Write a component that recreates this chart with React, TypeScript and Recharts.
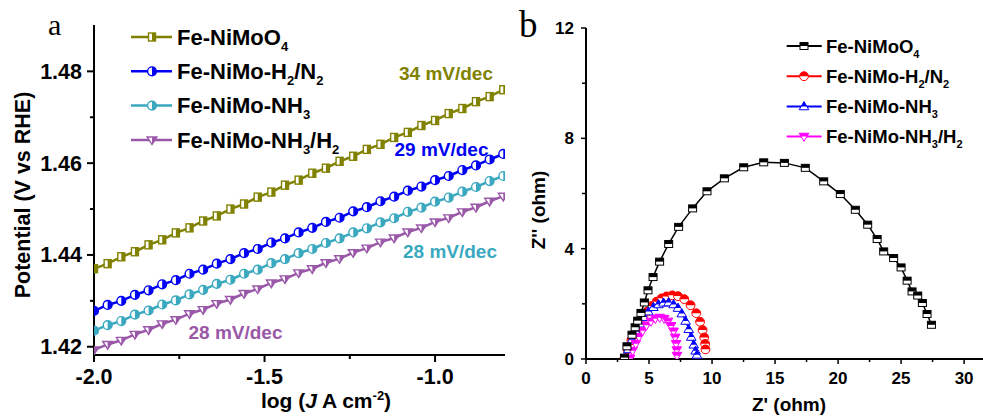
import React from 'react';
import { LineChart, Line, XAxis, YAxis, Legend } from 'recharts';

// ---------- Panel a: Tafel plots ----------
const tafelLogJ = [
  -2.0, -1.96, -1.92, -1.88, -1.84, -1.8, -1.76, -1.72, -1.68, -1.64, -1.6,
  -1.56, -1.52, -1.48, -1.44, -1.4, -1.36, -1.32, -1.28, -1.24, -1.2, -1.16,
  -1.12, -1.08, -1.04, -1.0, -0.96, -0.92, -0.88, -0.84, -0.8,
];
const tafelFeNiMoO4 = [
  1.437, 1.4381, 1.4396, 1.4407, 1.4422, 1.4433, 1.4448, 1.4459, 1.4474, 1.4485, 1.45,
  1.4511, 1.4526, 1.4537, 1.4552, 1.4563, 1.4578, 1.4589, 1.4604, 1.4615, 1.463, 1.4641,
  1.4656, 1.4667, 1.4682, 1.4693, 1.4708, 1.4719, 1.4734, 1.4745, 1.476,
];
const tafelH2N2 = [
  1.4278, 1.4291, 1.43, 1.4313, 1.4323, 1.4336, 1.4345, 1.4359, 1.4368, 1.4381, 1.4391,
  1.4404, 1.4413, 1.4427, 1.4436, 1.4449, 1.4459, 1.4472, 1.4481, 1.4495, 1.4504, 1.4517,
  1.4527, 1.454, 1.4549, 1.4563, 1.4572, 1.4585, 1.4595, 1.4608, 1.462,
];
const tafelNH3 = [
  1.4235, 1.4247, 1.4256, 1.427, 1.4279, 1.4292, 1.4301, 1.4314, 1.4324, 1.4337, 1.4346,
  1.4359, 1.4368, 1.4382, 1.4391, 1.4404, 1.4413, 1.4426, 1.4436, 1.4449, 1.4458, 1.4471,
  1.448, 1.4494, 1.4503, 1.4516, 1.4525, 1.4538, 1.4548, 1.4561, 1.4572,
];
const tafelNH3H2 = [
  1.4193, 1.4205, 1.4214, 1.4227, 1.4237, 1.425, 1.4259, 1.4272, 1.4281, 1.4294, 1.4303,
  1.4316, 1.4326, 1.4339, 1.4348, 1.4361, 1.437, 1.4383, 1.4392, 1.4405, 1.4415, 1.4428,
  1.4437, 1.445, 1.4459, 1.4472, 1.4481, 1.4494, 1.4504, 1.4517, 1.4528,
];
const tafelYTicks = [1.42, 1.43, 1.44, 1.45, 1.46, 1.47, 1.48];
const tafelXTicks = [-2.0, -1.75, -1.5, -1.25, -1.0];
const tafelSlopes = ['34 mV/dec', '29 mV/dec', '28 mV/dec', '28 mV/dec'];

// ---------- Panel b: Nyquist plots ----------
const eisFeNiMoO4Re = [
  3.05, 3.25, 3.65, 3.9, 4.1, 4.36, 4.63, 4.92, 5.32, 5.84, 6.56, 7.35, 8.46, 9.6, 10.98,
  12.51, 14.1, 15.74, 17.4, 18.86, 20.18, 21.37, 22.35, 23.1, 23.62, 24.41, 25.0, 25.48,
  25.87, 26.32, 26.69, 27.06, 27.41,
];
const eisFeNiMoO4Im = [
  0.05, 0.46, 0.88, 1.15, 1.39, 1.67, 2.05, 2.49, 2.97, 3.53, 4.17, 4.79, 5.46, 6.08, 6.55,
  6.95, 7.13, 7.11, 6.93, 6.44, 5.98, 5.41, 4.87, 4.35, 3.9, 3.66, 3.32, 2.84, 2.45, 2.3,
  2.03, 1.63, 1.24,
];
const eisH2N2Re = [
  3.05, 3.3, 3.6, 3.9, 4.2, 4.5, 4.85, 5.2, 5.6, 6.0, 6.4, 6.85, 7.3, 7.8, 8.3, 8.75, 9.05,
  9.25, 9.38, 9.45, 9.48,
];
const eisH2N2Im = [
  0.02, 0.35, 0.68, 0.98, 1.25, 1.5, 1.72, 1.92, 2.08, 2.2, 2.27, 2.31, 2.28, 2.17, 1.95,
  1.66, 1.35, 1.05, 0.78, 0.55, 0.35,
];
const eisNH3Re = [
  3.1, 3.35, 3.65, 3.95, 4.25, 4.6, 4.95, 5.35, 5.75, 6.15, 6.55, 6.95, 7.3, 7.6, 7.9, 8.15,
  8.35, 8.55, 8.7, 8.8,
];
const eisNH3Im = [
  0.02, 0.35, 0.7, 1.0, 1.28, 1.52, 1.72, 1.88, 1.98, 2.04, 2.05, 1.98, 1.85, 1.65, 1.38,
  1.08, 0.8, 0.52, 0.3, 0.15,
];
const eisNH3H2Re = [
  3.5, 3.7, 3.95, 4.2, 4.5, 4.8, 5.15, 5.5, 5.85, 6.2, 6.5, 6.75, 6.95, 7.08, 7.15, 7.2, 7.22,
];
const eisNH3H2Im = [
  0.02, 0.3, 0.55, 0.8, 1.02, 1.22, 1.36, 1.46, 1.5, 1.46, 1.36, 1.2, 1.0, 0.78, 0.55, 0.32,
  0.12,
];
const eisXTicks = [0, 2.5, 5, 7.5, 10, 12.5, 15, 17.5, 20, 22.5, 25, 27.5, 30];
const eisYTicks = [0, 2, 4, 6, 8, 10, 12];

const seriesNames = ['Fe-NiMoO4', 'Fe-NiMo-H2/N2', 'Fe-NiMo-NH3', 'Fe-NiMo-NH3/H2'];

const zip = (xs: number[], ys: number[]) => xs.map((x, i) => ({ x, y: ys[i] }));

const FONT = '"Liberation Sans", Arial, sans-serif';
const SERIF = '"Liberation Serif", "Times New Roman", serif';

const colorsA = ['#818100', '#0000f5', '#3aa9bf', '#9a58a8'];
const colorsB = ['#000000', '#ff0000', '#0000ff', '#ff00ff'];

// ---------- marker shapes ----------
type MP = { cx: number; cy: number; color: string };

const SqRight = ({ cx, cy, color }: MP) => (
  <g>
    <rect x={cx - 3.5} y={cy - 4} width={7} height={8} fill="#fff" stroke={color} strokeWidth={1.4} />
    <rect x={cx} y={cy - 4} width={3.5} height={8} fill={color} />
  </g>
);
const CircRight = ({ cx, cy, color }: MP) => {
  const r = 4.4;
  return (
    <g>
      <circle cx={cx} cy={cy} r={r} fill="#fff" stroke={color} strokeWidth={1.4} />
      <path d={`M ${cx} ${cy - r} A ${r} ${r} 0 0 1 ${cx} ${cy + r} Z`} fill={color} />
    </g>
  );
};
const TriDownRight = ({ cx, cy, color }: MP) => {
  const s = 4.9;
  return (
    <g>
      <polygon
        points={`${cx - s},${cy - 0.6 * s} ${cx + s},${cy - 0.6 * s} ${cx},${cy + 0.95 * s}`}
        fill="#fff"
        stroke={color}
        strokeWidth={1.4}
      />
      <polygon points={`${cx},${cy - 0.6 * s} ${cx + s},${cy - 0.6 * s} ${cx},${cy + 0.95 * s}`} fill={color} />
    </g>
  );
};

const SqTop = ({ cx, cy, color }: MP) => (
  <g>
    <rect x={cx - 4} y={cy - 3.5} width={8} height={7} fill="#fff" stroke={color} strokeWidth={1} />
    <rect x={cx - 4} y={cy - 3.5} width={8} height={3.5} fill={color} />
  </g>
);
const CircTop = ({ cx, cy, color }: MP) => {
  const r = 4.4;
  return (
    <g>
      <circle cx={cx} cy={cy} r={r} fill="#fff" stroke={color} strokeWidth={1} />
      <path d={`M ${cx - r} ${cy} A ${r} ${r} 0 0 1 ${cx + r} ${cy} Z`} fill={color} />
    </g>
  );
};
const TriUpTop = ({ cx, cy, color }: MP) => {
  const s = 4.8;
  const w = 0.59 * s;
  return (
    <g>
      <polygon
        points={`${cx},${cy - s} ${cx + s},${cy + 0.7 * s} ${cx - s},${cy + 0.7 * s}`}
        fill="#fff"
        stroke={color}
        strokeWidth={1}
      />
      <polygon points={`${cx},${cy - s} ${cx + w},${cy} ${cx - w},${cy}`} fill={color} />
    </g>
  );
};
const TriDownTop = ({ cx, cy, color }: MP) => {
  const s = 4.8;
  const w = 0.59 * s;
  return (
    <g>
      <polygon
        points={`${cx - s},${cy - 0.7 * s} ${cx + s},${cy - 0.7 * s} ${cx},${cy + s}`}
        fill="#fff"
        stroke={color}
        strokeWidth={1}
      />
      <polygon
        points={`${cx - s},${cy - 0.7 * s} ${cx + s},${cy - 0.7 * s} ${cx + w},${cy} ${cx - w},${cy}`}
        fill={color}
      />
    </g>
  );
};

const markersA = [SqRight, CircRight, CircRight, TriDownRight];
const markersB = [SqTop, CircTop, TriUpTop, TriDownTop];

const makeDot = (M: (p: MP) => React.ReactElement, color: string) => (props: any) => {
  const { cx, cy, index } = props;
  if (cx == null || cy == null) return <g key={index} />;
  return (
    <g key={index}>
      <M cx={cx} cy={cy} color={color} />
    </g>
  );
};

// name with chemical subscripts, drawn as svg tspans
const ChemName = ({ name, sub, shift }: { name: string; sub: number; shift: number }) => {
  const parts = name.split(/(\d)/).filter((p) => p !== '');
  let lowered = false;
  return (
    <>
      {parts.map((p, i) => {
        const isDigit = /\d/.test(p);
        let dy = 0;
        if (isDigit && !lowered) {
          dy = shift;
          lowered = true;
        } else if (!isDigit && lowered) {
          dy = -shift;
          lowered = false;
        }
        return (
          <tspan key={i} dy={dy} fontSize={isDigit ? sub : undefined}>
            {p}
          </tspan>
        );
      })}
    </>
  );
};

// ---------- panel a layout ----------
const A_W = 520;
const A_H = 419;
const A_LEFT = 94;
const A_BOTTOM = 355;

const TafelYTick = (props: any) => {
  const { y, payload } = props;
  const v = payload.value as number;
  const major = Math.round(v * 100) % 2 === 0;
  const len = major ? 7 : 4;
  return (
    <g>
      <line x1={A_LEFT - len} y1={y} x2={A_LEFT} y2={y} stroke="#000" strokeWidth={2} />
      {major && (
        <text x={82} y={y + 7.5} textAnchor="end" fontFamily={FONT} fontWeight="bold" fontSize={21.5} fill="#000">
          {v.toFixed(2)}
        </text>
      )}
    </g>
  );
};
const TafelXTick = (props: any) => {
  const { x, payload } = props;
  const v = payload.value as number;
  const major = Math.abs(v * 2 - Math.round(v * 2)) < 1e-6;
  const len = major ? 7 : 4;
  return (
    <g>
      <line x1={x} y1={A_BOTTOM} x2={x} y2={A_BOTTOM + len} stroke="#000" strokeWidth={2} />
      {major && (
        <text x={x} y={384} textAnchor="middle" fontFamily={FONT} fontWeight="bold" fontSize={21.5} fill="#000">
          {v.toFixed(1)}
        </text>
      )}
    </g>
  );
};

const LegendA = () => (
  <svg width={A_W} height={170} style={{ display: 'block' }}>
    {seriesNames.map((n, i) => {
      const yc = 37 + i * 34.3;
      const M = markersA[i];
      return (
        <g key={n}>
          <line x1={131} y1={yc} x2={172} y2={yc} stroke={colorsA[i]} strokeWidth={2.5} />
          <M cx={152} cy={yc} color={colorsA[i]} />
          <text x={177} y={yc + 7.7} fontFamily={FONT} fontWeight="bold" fontSize={22} fill="#000">
            <ChemName name={n} sub={13} shift={6} />
          </text>
        </g>
      );
    })}
  </svg>
);

// ---------- panel b layout ----------
const B_X = 520;
const B_W = 463;
const B_H = 419;
const B_LEFT = 66;
const B_BOTTOM = 359;

const EisYTick = (props: any) => {
  const { y, payload } = props;
  const v = payload.value as number;
  const major = v % 4 === 0;
  const len = major ? 5 : 4;
  return (
    <g>
      <line x1={B_LEFT - len} y1={y} x2={B_LEFT} y2={y} stroke="#000" strokeWidth={1.5} />
      {major && (
        <text x={54} y={y + 6} textAnchor="end" fontFamily={FONT} fontWeight="bold" fontSize={17} fill="#000">
          {v}
        </text>
      )}
    </g>
  );
};
const EisXTick = (props: any) => {
  const { x, payload } = props;
  const v = payload.value as number;
  const major = v % 5 === 0;
  const len = major ? 5 : 3;
  return (
    <g>
      <line x1={x} y1={B_BOTTOM} x2={x} y2={B_BOTTOM + len} stroke="#000" strokeWidth={1.5} />
      {major && (
        <text x={x} y={383.5} textAnchor="middle" fontFamily={FONT} fontWeight="bold" fontSize={17} fill="#000">
          {v}
        </text>
      )}
    </g>
  );
};

const LegendB = () => (
  <svg width={B_W} height={160} style={{ display: 'block' }}>
    {seriesNames.map((n, i) => {
      const yc = 46 + i * 30.2;
      const M = markersB[i];
      return (
        <g key={n}>
          <line x1={266.7} y1={yc} x2={301.7} y2={yc} stroke={colorsB[i]} strokeWidth={2} />
          <M cx={284} cy={yc} color={colorsB[i]} />
          <text x={306} y={yc + 6.6} fontFamily={FONT} fontWeight="bold" fontSize={18.5} fill="#000">
            <ChemName name={n} sub={11} shift={5} />
          </text>
        </g>
      );
    })}
  </svg>
);

export default function App() {
  const tafelSets = [tafelFeNiMoO4, tafelH2N2, tafelNH3, tafelNH3H2].map((ys) => zip(tafelLogJ, ys));
  const eisSets = [
    zip(eisFeNiMoO4Re, eisFeNiMoO4Im),
    zip(eisH2N2Re, eisH2N2Im),
    zip(eisNH3Re, eisNH3Im),
    zip(eisNH3H2Re, eisNH3H2Im),
  ];
  const eisOrder = [1, 2, 3, 0];

  return (
    <div style={{ position: 'absolute', left: 0, top: 0, width: 983, height: 419, background: '#fff', overflow: 'hidden' }}>
      <div style={{ position: 'absolute', left: 0, top: 0 }}>
        <LineChart width={A_W} height={A_H} margin={{ top: 25, right: 15, bottom: 0, left: 0 }}>
          <XAxis
            xAxisId="main"
            type="number"
            dataKey="x"
            domain={[-2.0, -0.795]}
            allowDataOverflow
            ticks={tafelXTicks}
            interval={0}
            height={64}
            tickLine={false}
            axisLine={{ stroke: '#000', strokeWidth: 2 }}
            tick={<TafelXTick />}
          />
          <XAxis
            xAxisId="frame"
            orientation="top"
            type="number"
            domain={[-2.0, -0.795]}
            height={0}
            tick={false}
            tickLine={false}
            axisLine={{ stroke: '#000', strokeWidth: 2 }}
          />
          <YAxis
            yAxisId="main"
            type="number"
            domain={[1.4182, 1.4901]}
            allowDataOverflow
            ticks={tafelYTicks}
            interval={0}
            width={A_LEFT}
            tickLine={false}
            axisLine={{ stroke: '#000', strokeWidth: 2 }}
            tick={<TafelYTick />}
          />
          <YAxis
            yAxisId="frame"
            orientation="right"
            type="number"
            domain={[1.4182, 1.4901]}
            width={0}
            tick={false}
            tickLine={false}
            axisLine={{ stroke: '#000', strokeWidth: 2 }}
          />
          {tafelSets.map((d, i) => (
            <Line
              key={seriesNames[i]}
              xAxisId="main"
              yAxisId="main"
              data={d}
              dataKey="y"
              name={seriesNames[i]}
              type="linear"
              stroke={colorsA[i]}
              strokeWidth={2.5}
              dot={makeDot(markersA[i], colorsA[i])}
              activeDot={false}
              isAnimationActive={false}
            />
          ))}
          <Legend
            layout="vertical"
            align="center"
            verticalAlign="middle"
            content={<LegendA />}
            wrapperStyle={{ left: 0, top: 0, width: A_W, height: 170 }}
          />
        </LineChart>
      </div>

      <div style={{ position: 'absolute', left: B_X, top: 0 }}>
        <LineChart width={B_W} height={B_H} margin={{ top: 28, right: 0, bottom: 0, left: 0 }}>
          <XAxis
            xAxisId="main"
            type="number"
            dataKey="x"
            domain={[0, 31.5]}
            allowDataOverflow
            ticks={eisXTicks}
            interval={0}
            height={60}
            tickLine={false}
            axisLine={{ stroke: '#000', strokeWidth: 2 }}
            tick={<EisXTick />}
          />
          <XAxis
            xAxisId="frame"
            orientation="top"
            type="number"
            domain={[0, 31.5]}
            height={0}
            tick={false}
            tickLine={false}
            axisLine={{ stroke: '#000', strokeWidth: 2 }}
          />
          <YAxis
            yAxisId="main"
            type="number"
            domain={[0, 12]}
            allowDataOverflow
            ticks={eisYTicks}
            interval={0}
            width={B_LEFT}
            tickLine={false}
            axisLine={{ stroke: '#000', strokeWidth: 2 }}
            tick={<EisYTick />}
          />
          {eisOrder.map((i) => (
            <Line
              key={seriesNames[i]}
              xAxisId="main"
              yAxisId="main"
              data={eisSets[i]}
              dataKey="y"
              name={seriesNames[i]}
              type="linear"
              stroke={colorsB[i]}
              strokeWidth={1.5}
              dot={makeDot(markersB[i], colorsB[i])}
              activeDot={false}
              isAnimationActive={false}
            />
          ))}
          <Legend
            layout="vertical"
            align="center"
            verticalAlign="middle"
            content={<LegendB />}
            wrapperStyle={{ left: 0, top: 0, width: B_W, height: 160 }}
          />
        </LineChart>
      </div>

      {/* titles, panel letters and slope annotations */}
      <svg
        width={983}
        height={419}
        style={{ position: 'absolute', left: 0, top: 0, pointerEvents: 'none' }}
      >
        <text x={48} y={35} fontFamily={SERIF} fontSize={30} fill="#000">a</text>
        <text x={519} y={37} fontFamily={SERIF} fontSize={37} fill="#000">b</text>

        <text
          transform="translate(30,195) rotate(-90)"
          textAnchor="middle"
          fontFamily={FONT}
          fontWeight="bold"
          fontSize={21.5}
          fill="#000"
        >
          Potential (V vs RHE)
        </text>
        <text x={326} y={408} textAnchor="middle" fontFamily={FONT} fontWeight="bold" fontSize={21} fill="#000">
          log (<tspan fontStyle="italic">J</tspan> A cm<tspan dy={-8} fontSize={13}>-2</tspan>
          <tspan dy={8}>)</tspan>
        </text>

        <text x={446} y={80} textAnchor="middle" fontFamily={FONT} fontWeight="bold" fontSize={19} fill={colorsA[0]}>
          {tafelSlopes[0]}
        </text>
        <text x={441.5} y={155.7} textAnchor="middle" fontFamily={FONT} fontWeight="bold" fontSize={19} fill={colorsA[1]}>
          {tafelSlopes[1]}
        </text>
        <text x={450} y={257.7} textAnchor="middle" fontFamily={FONT} fontWeight="bold" fontSize={19} fill={colorsA[2]}>
          {tafelSlopes[2]}
        </text>
        <text x={235.5} y={339} textAnchor="middle" fontFamily={FONT} fontWeight="bold" fontSize={19} fill={colorsA[3]}>
          {tafelSlopes[3]}
        </text>

        <text
          transform="translate(545,210) rotate(-90)"
          textAnchor="middle"
          fontFamily={FONT}
          fontWeight="bold"
          fontSize={19}
          fill="#000"
        >
          Z'' (ohm)
        </text>
        <text x={789} y={411} textAnchor="middle" fontFamily={FONT} fontWeight="bold" fontSize={19} fill="#000">
          Z' (ohm)
        </text>
      </svg>
    </div>
  );
}
